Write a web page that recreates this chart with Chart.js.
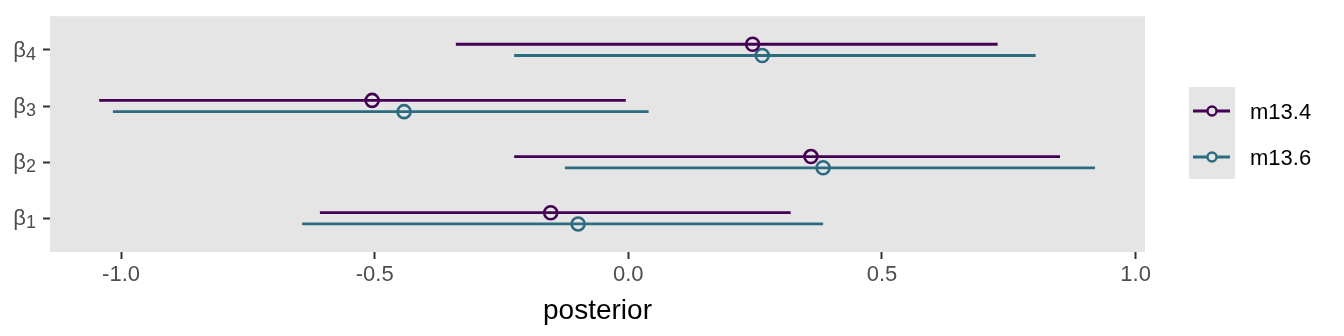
<!DOCTYPE html>
<html>
<head>
<meta charset="utf-8">
<script src="https://cdn.jsdelivr.net/npm/chart.js@4.4.1/dist/chart.umd.min.js"></script>
<style>
  html, body { margin: 0; padding: 0; background: #fff; }
  #wrap { width: 1344px; height: 336px; }
</style>
</head>
<body>
<div id="wrap"><canvas id="graph"></canvas></div>
<script>
// parameters, bottom to top
const params = ['β1', 'β2', 'β3', 'β4'];
const models = ['m13.4', 'm13.6'];
const xTicks = [-1.0, -0.5, 0.0, 0.5, 1.0];

// m13.4
const m134Est = [-0.153, 0.360, -0.505, 0.245];
const m134Lo = [-0.608, -0.225, -1.043, -0.340];
const m134Hi = [0.320, 0.851, -0.005, 0.728];
// m13.6
const m136Est = [-0.099, 0.384, -0.442, 0.264];
const m136Lo = [-0.643, -0.125, -1.016, -0.225];
const m136Hi = [0.384, 0.920, 0.040, 0.803];

const colors = ['#440154', '#2C6C80'];
const dodge = [0.1, -0.1];
const FONT = "'Liberation Sans', Arial, sans-serif";

function rangeData(lo, hi, d) {
  let out = [];
  lo.forEach((v, i) => {
    out.push({ x: v, y: i + 1 + d });
    out.push({ x: hi[i], y: i + 1 + d });
    out.push({ x: v, y: null });
  });
  return out;
}
function pointData(est, d) {
  return est.map((v, i) => ({ x: v, y: i + 1 + d }));
}

const series = [
  { est: m134Est, lo: m134Lo, hi: m134Hi },
  { est: m136Est, lo: m136Lo, hi: m136Hi }
];

let datasets = [];
series.forEach((s, k) => {
  datasets.push({
    type: 'line',
    data: rangeData(s.lo, s.hi, dodge[k]),
    borderColor: colors[k],
    borderWidth: 2.8,
    pointRadius: 0,
    spanGaps: false,
    fill: false
  });
  datasets.push({
    type: 'scatter',
    data: pointData(s.est, dodge[k]),
    borderColor: colors[k],
    backgroundColor: 'rgba(0,0,0,0)',
    borderWidth: 2.6,
    pointRadius: 6.5,
    pointHoverRadius: 6.5
  });
});

const panelBg = {
  id: 'panelBg',
  beforeDraw(chart) {
    const { ctx, chartArea: a } = chart;
    ctx.save();
    ctx.fillStyle = '#E5E5E5';
    ctx.fillRect(a.left, a.top, a.right - a.left, a.bottom - a.top);
    ctx.restore();
  }
};

// y labels with subscript, and the side legend
const extras = {
  id: 'extras',
  afterDraw(chart) {
    const { ctx } = chart;
    const ys = chart.scales.y;
    ctx.save();
    ctx.textBaseline = 'alphabetic';
    params.forEach((p, i) => {
      const y = ys.getPixelForValue(i + 1);
      const base = p.charAt(0), sub = p.slice(1);
      ctx.font = '18px ' + FONT;
      const sw = ctx.measureText(sub).width;
      ctx.fillStyle = '#4D4D4D';
      ctx.textAlign = 'right';
      ctx.fillText(sub, 36, y + 10);
      ctx.font = '22px ' + FONT;
      ctx.fillText(base, 36 - sw, y + 7);
    });

    // legend
    const lx = 1189, ly = 87;
    ctx.fillStyle = '#E5E5E5';
    ctx.fillRect(lx, ly, 46, 92);
    models.forEach((m, k) => {
      const cy = ly + 24 + k * 46;
      ctx.strokeStyle = colors[k];
      ctx.lineWidth = 2.8;
      ctx.beginPath();
      ctx.moveTo(lx + 4, cy);
      ctx.lineTo(lx + 41, cy);
      ctx.stroke();
      ctx.lineWidth = 2.4;
      ctx.fillStyle = '#E5E5E5';
      ctx.beginPath();
      ctx.arc(lx + 23, cy, 4.5, 0, Math.PI * 2);
      ctx.fill();
      ctx.stroke();
      ctx.fillStyle = '#000';
      ctx.font = '22px ' + FONT;
      ctx.textAlign = 'left';
      ctx.fillText(m, 1250, cy + 8);
    });
    ctx.restore();
  }
};

const ctx = document.getElementById('graph').getContext('2d');
new Chart(ctx, {
  type: 'scatter',
  data: { datasets: datasets },
  plugins: [panelBg, extras],
  options: {
    responsive: true,
    maintainAspectRatio: false,
    devicePixelRatio: 1,
    animation: false,
    layout: { padding: { top: 15, right: 199, left: 0, bottom: 0 } },
    plugins: { legend: { display: false }, tooltip: { enabled: false } },
    scales: {
      x: {
        type: 'linear',
        min: -1.14,
        max: 1.0185,
        afterBuildTicks: (s) => { s.ticks = xTicks.map(v => ({ value: v })); },
        afterFit: (s) => { s.height = 84; },
        border: { display: false },
        grid: { drawOnChartArea: false, drawTicks: true, tickLength: 7, tickColor: '#333333', tickWidth: 2 },
        ticks: {
          color: '#4D4D4D',
          font: { family: FONT, size: 22 },
          padding: 3,
          maxRotation: 0,
          callback: (v) => v.toFixed(1)
        },
        title: {
          display: true,
          text: 'posterior',
          color: '#000',
          font: { family: FONT, size: 28 },
          padding: { top: 0, bottom: 8 }
        }
      },
      y: {
        type: 'linear',
        min: 0.4,
        max: 4.6,
        afterBuildTicks: (s) => { s.ticks = params.map((p, i) => ({ value: i + 1 })); },
        afterFit: (s) => { s.width = 50; },
        border: { display: false },
        grid: { drawOnChartArea: false, drawTicks: true, tickLength: 7, tickColor: '#333333', tickWidth: 2 },
        ticks: { callback: () => '', font: { size: 22 } }
      }
    }
  }
});
</script>
</body>
</html>
